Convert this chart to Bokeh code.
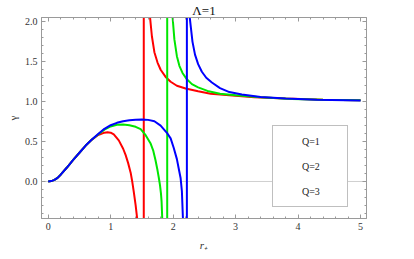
from bokeh.plotting import figure
from bokeh.models import (Range1d, LinearAxis, SingleIntervalTicker, NumeralTickFormatter,
                          Legend, LegendItem, Span)
from bokeh.embed import file_html
from bokeh.resources import INLINE

# ---------------- data ----------------
title_text = "Λ=1"
x_label = "r₊"
y_label = "γ"
q_labels = ["Q=1", "Q=2", "Q=3"]

X_MIN, X_MAX = -0.107, 5.095
Y_MIN, Y_MAX = -0.464, 2.055

red_left_x = [0.0, 0.05, 0.1, 0.15, 0.2, 0.3, 0.4, 0.5, 0.6, 0.7, 0.8, 0.9, 0.95, 1.0, 1.05,
              1.13, 1.2, 1.24, 1.28, 1.32, 1.345, 1.37, 1.40, 1.425]
red_left_y = [0.0, 0.005, 0.02, 0.045, 0.085, 0.175, 0.27, 0.36, 0.45, 0.525, 0.583, 0.612, 0.617,
              0.612, 0.59, 0.515, 0.41, 0.33, 0.23, 0.11, 0.0, -0.13, -0.30, -0.47]
red_pole = 1.53
red_right_x = [1.63, 1.66, 1.70, 1.75, 1.80, 1.88, 1.96, 2.06, 2.2, 2.4, 2.6, 2.9, 3.3, 3.8, 4.4, 5.0]
red_right_y = [2.06, 1.82, 1.62, 1.49, 1.40, 1.31, 1.25, 1.20, 1.165, 1.13, 1.10, 1.08, 1.055,
               1.04, 1.025, 1.017]

green_left_x = [0.0, 0.05, 0.1, 0.15, 0.2, 0.3, 0.4, 0.5, 0.6, 0.7, 0.8, 0.9, 1.0, 1.1, 1.2, 1.3,
                1.4, 1.48, 1.56, 1.637, 1.68, 1.717, 1.75, 1.77, 1.79, 1.805, 1.815, 1.826]
green_left_y = [0.0, 0.005, 0.02, 0.045, 0.085, 0.175, 0.27, 0.36, 0.45, 0.525, 0.59, 0.65, 0.69,
                0.71, 0.715, 0.705, 0.685, 0.655, 0.58, 0.48, 0.39, 0.27, 0.14, 0.05, -0.05,
                -0.15, -0.25, -0.47]
green_pole = 1.905
green_right_x = [1.99, 2.02, 2.06, 2.10, 2.15, 2.22, 2.30, 2.40, 2.55, 2.75, 3.0, 3.4, 3.9, 4.4, 5.0]
green_right_y = [2.07, 1.78, 1.57, 1.45, 1.36, 1.28, 1.22, 1.18, 1.135, 1.10, 1.08, 1.055, 1.035,
                 1.025, 1.017]

blue_left_x = [0.0, 0.05, 0.1, 0.15, 0.2, 0.3, 0.4, 0.5, 0.6, 0.7, 0.8, 0.9, 1.0, 1.1, 1.2, 1.3,
               1.4, 1.5, 1.6, 1.7, 1.8, 1.9, 1.96, 2.01, 2.06, 2.09, 2.12, 2.14, 2.157]
blue_left_y = [0.0, 0.005, 0.02, 0.045, 0.085, 0.175, 0.27, 0.36, 0.45, 0.525, 0.595, 0.66, 0.705,
               0.735, 0.755, 0.767, 0.774, 0.776, 0.772, 0.755, 0.70, 0.61, 0.54, 0.42, 0.28,
               0.16, 0.04, -0.12, -0.47]
blue_pole = 2.22
blue_right_x = [2.265, 2.31, 2.35, 2.40, 2.46, 2.53, 2.62, 2.75, 2.9, 3.1, 3.4, 3.8, 4.3, 5.0]
blue_right_y = [2.06, 1.75, 1.59, 1.47, 1.375, 1.30, 1.24, 1.17, 1.12, 1.09, 1.06, 1.04, 1.025, 1.016]

# ---------------- styling ----------------
SERIF = "Liberation Serif"
FRAME = "#9a9a9a"
TEXT = "#333333"
colors = ["#ff0000", "#00e600", "#0000ff"]
pale = ["#ffb0b0", "#b0ffb0", "#b0b0ff"]

p = figure(frame_width=325, frame_height=201,
           x_range=Range1d(X_MIN, X_MAX), y_range=Range1d(Y_MIN, Y_MAX),
           output_backend="svg", toolbar_location=None,
           min_border_left=41, min_border_right=48, min_border_top=17, min_border_bottom=41)
p.xgrid.visible = False
p.ygrid.visible = False
p.outline_line_color = FRAME
p.background_fill_color = "white"
p.border_fill_color = "white"

p.title.text = title_text
p.title.align = "center"
p.title.text_font = SERIF
p.title.text_font_size = "13px"
p.title.text_font_style = "normal"
p.title.text_color = "#111111"
p.title.standoff = 0
p.title.offset = 0


def style_axis(ax, show_labels):
    ax.axis_line_color = FRAME
    ax.major_tick_line_color = FRAME
    ax.minor_tick_line_color = FRAME
    ax.major_tick_in = 4
    ax.major_tick_out = 0
    ax.minor_tick_in = 2
    ax.minor_tick_out = 0
    ax.major_label_text_font = SERIF
    if show_labels:
        ax.major_label_text_font_size = "10px"
        ax.major_label_text_color = TEXT
        ax.major_label_standoff = 4
    else:
        ax.major_label_text_font_size = "1px"
        ax.major_label_text_color = None
        ax.major_label_standoff = 0


p.xaxis.ticker = SingleIntervalTicker(interval=1, num_minor_ticks=5)
p.yaxis.ticker = SingleIntervalTicker(interval=0.5, num_minor_ticks=5)
p.yaxis.formatter = NumeralTickFormatter(format="0.0")
style_axis(p.xaxis[0], True)
style_axis(p.yaxis[0], True)

p.yaxis.axis_label = y_label
p.yaxis.axis_label_text_font_style = "normal"
p.yaxis.axis_label_standoff = 3
p.xaxis.axis_label = x_label
p.xaxis.axis_label_text_font_style = "italic"
p.xaxis.axis_label_standoff = 6
for ax in (p.xaxis[0], p.yaxis[0]):
    ax.axis_label_text_font = SERIF
    ax.axis_label_text_font_size = "11px"
    ax.axis_label_text_color = TEXT

top_ax = LinearAxis(ticker=SingleIntervalTicker(interval=1, num_minor_ticks=5))
right_ax = LinearAxis(ticker=SingleIntervalTicker(interval=0.5, num_minor_ticks=5))
style_axis(top_ax, False)
style_axis(right_ax, False)
p.add_layout(top_ax, "above")
p.add_layout(right_ax, "right")

# zero line
p.add_layout(Span(location=0, dimension="width", line_color="#cfcfcf", line_width=1, level="underlay"))

branches = [
    (red_left_x, red_left_y, red_pole, red_right_x, red_right_y),
    (green_left_x, green_left_y, green_pole, green_right_x, green_right_y),
    (blue_left_x, blue_left_y, blue_pole, blue_right_x, blue_right_y),
]
for (lx, ly, pole, rx, ry), c in zip(branches, colors):
    p.line(lx, ly, line_color=c, line_width=2)
    p.segment(x0=[pole], y0=[Y_MIN - 0.1], x1=[pole], y1=[Y_MAX + 0.1], line_color=c, line_width=2)
    p.line(rx, ry, line_color=c, line_width=2)

# legend with pale sample lines
items = []
for lab, pc in zip(q_labels, pale):
    r = p.line([], [], line_color=pc, line_width=1)
    items.append(LegendItem(label=lab, renderers=[r]))
legend = Legend(items=items, location=(231, 11), orientation="vertical",
                label_text_font=SERIF, label_text_font_size="10px", label_text_color="#222222",
                glyph_width=11, glyph_height=20, label_height=20, label_width=40,
                label_standoff=13, spacing=5, padding=5, margin=0,
                border_line_color="#808080", border_line_width=1,
                background_fill_color="white", background_fill_alpha=1.0)
p.add_layout(legend, "center")

open("out.html", "w").write(file_html(p, INLINE))
